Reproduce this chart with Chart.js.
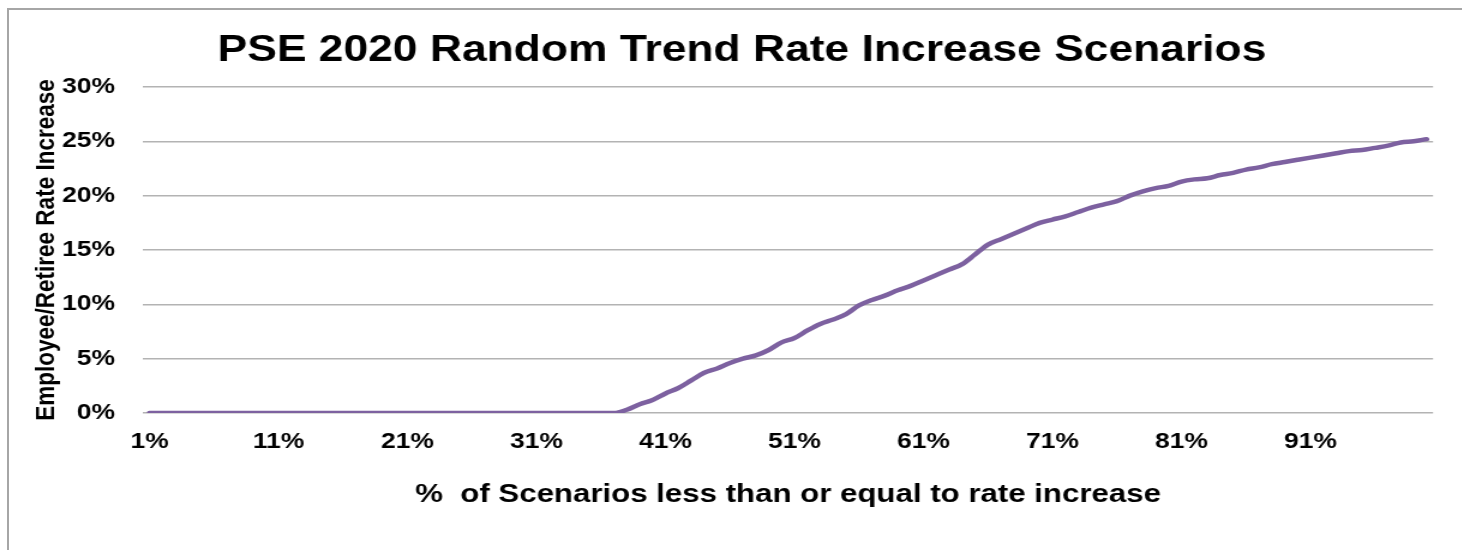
<!DOCTYPE html>
<html>
<head>
<meta charset="utf-8">
<title>PSE 2020 Random Trend Rate Increase Scenarios</title>
<script src="https://cdn.jsdelivr.net/npm/chart.js@4/dist/chart.umd.min.js"></script>
<style>
  html, body { margin: 0; padding: 0; background: #ffffff; }
  body { width: 1462px; height: 550px; position: relative; overflow: hidden; }
  #frame {
    position: absolute; left: 7px; top: 8px; width: 1460px; height: 545px;
    border-top: 2px solid #a6a6a6; border-left: 2px solid #a6a6a6;
  }
  /* the chart is laid out narrow and widened to the page width */
  #chart {
    position: absolute; left: 0; top: 0;
    transform: scaleX(1.2); transform-origin: 0 0;
  }
</style>
</head>
<body>
<div id="frame"></div>
<canvas id="chart" width="1218" height="550"></canvas>
<script>
// Percentile of scenarios (category axis)
const categories = [
  '1%','2%','3%','4%','5%','6%','7%','8%','9%','10%',
  '11%','12%','13%','14%','15%','16%','17%','18%','19%','20%',
  '21%','22%','23%','24%','25%','26%','27%','28%','29%','30%',
  '31%','32%','33%','34%','35%','36%','37%','38%','39%','40%',
  '41%','42%','43%','44%','45%','46%','47%','48%','49%','50%',
  '51%','52%','53%','54%','55%','56%','57%','58%','59%','60%',
  '61%','62%','63%','64%','65%','66%','67%','68%','69%','70%',
  '71%','72%','73%','74%','75%','76%','77%','78%','79%','80%',
  '81%','82%','83%','84%','85%','86%','87%','88%','89%','90%',
  '91%','92%','93%','94%','95%','96%','97%','98%','99%','100%'
];

// Employee/retiree rate increase (%) at each percentile
const rateIncrease = [
  0, 0, 0, 0, 0, 0, 0, 0, 0, 0,
  0, 0, 0, 0, 0, 0, 0, 0, 0, 0,
  0, 0, 0, 0, 0, 0, 0, 0, 0, 0,
  0, 0, 0, 0, 0, 0, 0, 0.3, 0.8, 1.2,
  1.8, 2.3, 3.0, 3.7, 4.1, 4.6, 5.0, 5.3, 5.8, 6.5,
  6.9, 7.6, 8.2, 8.6, 9.1, 9.9, 10.4, 10.8, 11.3, 11.7,
  12.2, 12.7, 13.2, 13.7, 14.6, 15.5, 16.0, 16.5, 17.0, 17.5,
  17.8, 18.1, 18.5, 18.9, 19.2, 19.5, 20.0, 20.4, 20.7, 20.9,
  21.3, 21.5, 21.6, 21.9, 22.1, 22.4, 22.6, 22.9, 23.1, 23.3,
  23.5, 23.7, 23.9, 24.1, 24.2, 24.4, 24.6, 24.9, 25.0, 25.2
];

// Category labels printed under the axis
const xTickLabels = ['1%', '11%', '21%', '31%', '41%', '51%', '61%', '71%', '81%', '91%'];

// Value axis range and step (%)
const yMin = 0;
const yMax = 30;
const yStep = 5;

const fontFamily = "'Liberation Sans', Arial, Helvetica, sans-serif";
const leftPad = 42.4;

new Chart(document.getElementById('chart'), {
  type: 'line',
  data: {
    labels: categories,
    datasets: [{
      data: rateIncrease,
      borderColor: '#7D61A0',
      borderWidth: 4.5,
      pointRadius: 0,
      pointHoverRadius: 0,
      fill: false,
      cubicInterpolationMode: 'monotone',
      borderCapStyle: 'round',
      borderJoinStyle: 'round'
    }]
  },
  options: {
    responsive: false,
    devicePixelRatio: 1,
    animation: false,
    events: [],
    layout: { padding: { left: leftPad, right: 23.8, top: 0, bottom: 0 } },
    plugins: {
      legend: { display: false },
      tooltip: { enabled: false },
      title: {
        display: true,
        text: 'PSE 2020 Random Trend Rate Increase Scenarios',
        color: '#000000',
        font: { family: fontFamily, size: 37, weight: 'bold' },
        padding: { top: 28.6, bottom: 14 }
      }
    },
    scales: {
      x: {
        type: 'category',
        offset: true,
        grid: { display: false, drawTicks: false },
        border: { display: false },
        ticks: {
          autoSkip: false,
          maxRotation: 0,
          minRotation: 0,
          padding: 16,
          color: '#000000',
          font: { family: fontFamily, size: 22, weight: 'bold' },
          callback: function (value) {
            const lab = this.getLabelForValue(value);
            return xTickLabels.includes(lab) ? lab : '';
          }
        },
        title: {
          display: true,
          text: '%  of Scenarios less than or equal to rate increase',
          color: '#000000',
          font: { family: fontFamily, size: 26, weight: 'bold' },
          padding: { top: 0, bottom: 40 }
        },
        afterFit: function (scale) { scale.height = 137; }
      },
      y: {
        min: yMin,
        max: yMax,
        grid: { color: '#b3b3b3', lineWidth: 1.6, drawTicks: false },
        border: { display: false },
        ticks: {
          stepSize: yStep,
          padding: 23.4,
          color: '#000000',
          font: { family: fontFamily, size: 22, weight: 'bold' },
          callback: function (value) { return value + '%'; }
        },
        title: {
          display: true,
          text: 'Employee/Retiree Rate Increase',
          color: '#000000',
          font: { family: fontFamily, size: 22.5, weight: 'bold' },
          padding: { top: -16.7, bottom: 0 }
        },
        afterFit: function (scale) { scale.width = 119.2 - leftPad; }
      }
    }
  }
});
</script>
</body>
</html>
